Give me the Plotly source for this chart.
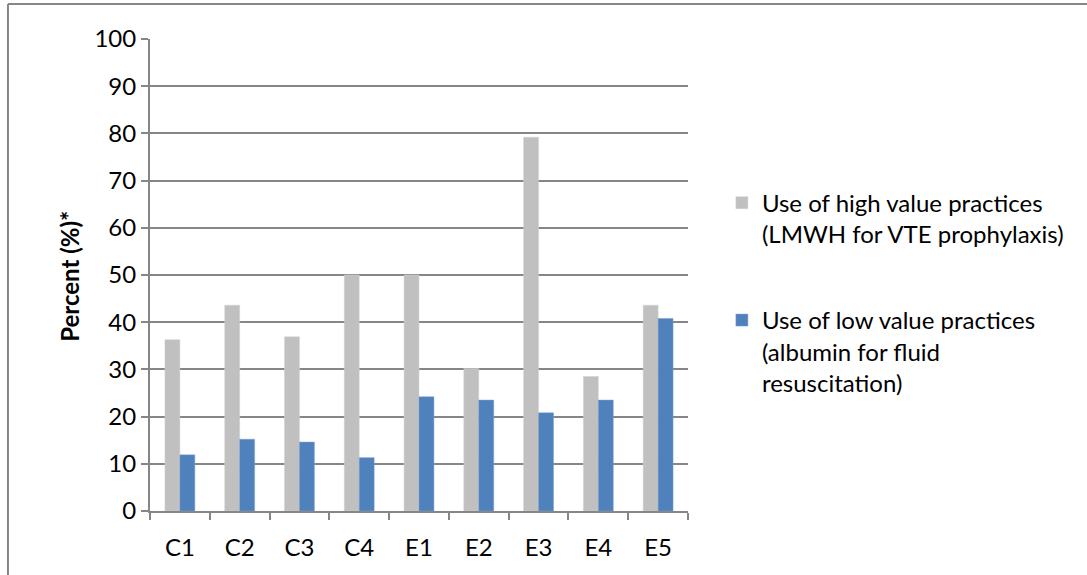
import plotly.graph_objects as go

categories = ["C1", "C2", "C3", "C4", "E1", "E2", "E3", "E4", "E5"]
high_value = [36.3, 43.6, 36.9, 50.0, 50.0, 30.2, 79.2, 28.5, 43.6]
low_value = [11.9, 15.2, 14.6, 11.3, 24.2, 23.5, 20.8, 23.5, 40.8]
y_ticks = list(range(0, 101, 10))

FONT = "Lato"
GRID = "#868686"

fig = go.Figure()
fig.add_trace(go.Bar(
    x=categories, y=high_value,
    name="Use of high value practices<br>(LMWH for VTE prophylaxis)",
    marker=dict(color="#C0C0C0", line=dict(color="#D0D0D0", width=0.5)),
    legendgroup="a",
))
fig.add_trace(go.Bar(
    x=categories, y=low_value,
    name="Use of low value practices<br>(albumin for fluid<br>resuscitation)",
    marker=dict(color="#4F81BD", line=dict(color="#7DA0CC", width=0.5)),
    legendgroup="b",
))

fig.update_layout(
    width=1087, height=575,
    margin=dict(l=150, r=399, t=39, b=64),
    paper_bgcolor="white", plot_bgcolor="white",
    barmode="group", bargap=0.5, bargroupgap=0,
    font=dict(family=FONT, size=24, color="black"),
    showlegend=True,
    legend=dict(
        x=1.063, y=0.70, xanchor="left", yanchor="top",
        font=dict(family=FONT, size=24, color="black"),
        tracegroupgap=52, itemwidth=30, valign="top",
        bgcolor="rgba(0,0,0,0)",
    ),
    xaxis=dict(
        showline=True, linecolor=GRID, linewidth=2,
        ticks="outside", tickson="boundaries", ticklen=7, tickwidth=2, tickcolor=GRID,
        tickfont=dict(family=FONT, size=24),
        ticklabelstandoff=14,
        showgrid=False,
    ),
    yaxis=dict(
        range=[0, 100], tickvals=y_ticks,
        showline=True, linecolor=GRID, linewidth=2,
        ticks="outside", ticklen=7, tickwidth=2, tickcolor=GRID,
        tickfont=dict(family=FONT, size=24),
        showgrid=True, gridcolor=GRID, gridwidth=2,
        zeroline=False,
    ),
    annotations=[dict(
        text="<b>Percent (%)*</b>", xref="paper", yref="paper",
        x=-0.149, y=0.498, textangle=-90, showarrow=False,
        font=dict(family=FONT, size=24, color="black"),
        xanchor="center", yanchor="middle",
    )],
    shapes=[
        dict(type="line", xref="paper", yref="paper", x0=-0.264, x1=-0.264, y0=1.074, y1=-0.2,
             line=dict(color=GRID, width=2)),
        dict(type="line", xref="paper", yref="paper", x0=-0.264, x1=1.8, y0=1.074, y1=1.074,
             line=dict(color=GRID, width=2)),
    ],
)

fig.write_html("out.html", config={"displayModeBar": False},
               post_script="document.body.style.margin='0';")
